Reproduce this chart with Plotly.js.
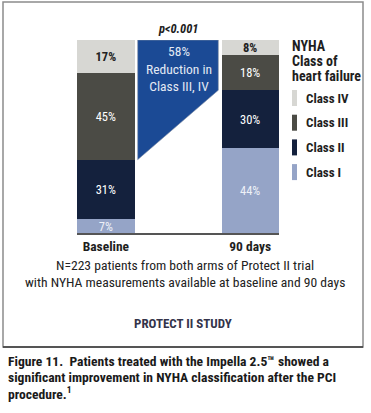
<!DOCTYPE html>
<html>
<head>
<meta charset="utf-8">
<script src="https://cdn.plot.ly/plotly-3.0.1.min.js"></script>
<style>html,body{margin:0;padding:0;background:#fff;}#chart{width:371px;height:413px;}</style>
</head>
<body>
<div id="chart"></div>
<script>
// ---- data ----
const categories = ['Baseline', '90 days'];
const seriesNames = ['Class I', 'Class II', 'Class III', 'Class IV'];
const classI = [7, 44];
const classII = [31, 30];
const classIII = [45, 18];
const classIV = [17, 8];
const reductionText = ['58%', 'Reduction in', 'Class III, IV'];
const pValueText = 'p&lt;0.001';
const legendTitle = ['NYHA', 'Class of', 'heart failure'];
const footnoteLines = ['N=223 patients from both arms of Protect II trial',
                       'with NYHA measurements available at baseline and 90 days'];
const studyLabel = 'PROTECT II STUDY';
const captionLines = ['Figure 11.  Patients treated with the Impella 2.5\u2122 showed a',
                      'significant improvement in NYHA classification after the PCI',
                      'procedure.<sup>1</sup>'];

// ---- styles ----
const FONT = '"Liberation Sans Narrow", "Roboto Condensed", Roboto, sans-serif';
const colors = ['#95a4c7', '#14213d', '#4b4b45', '#d7d7d3'];
const labelColors = ['#eef1f7', '#ffffff', '#ffffff', '#222222'];
const labelWeights = ['normal', 'normal', 'normal', 'bold'];
const BLUE = '#1b4a95';
const BAR_W = 0.397;
const GAP = 0.022;

const xPos = categories.map((c, i) => i);
const series = [classI, classII, classIII, classIV];

const traces = series.map((vals, k) => ({
  type: 'bar',
  name: seriesNames[k],
  x: xPos,
  y: vals,
  width: BAR_W,
  marker: {color: colors[k], line: {width: 0}},
  text: vals.map(v => v + '%'),
  textposition: 'inside',
  insidetextanchor: 'middle',
  textangle: 0,
  textfont: {family: FONT, size: 12.5, color: labelColors[k], weight: labelWeights[k]},
  hoverinfo: 'skip',
  showlegend: false
}));

// reduction polygon: from top of the stacks down to the class II/III boundary of each bar
const total = series.reduce((s, v) => s + v[0], 0);
const leftBottom = classI[0] + classII[0];
const rightBottom = classI[1] + classII[1];
const px0 = xPos[0] + BAR_W / 2 + GAP;
const px1 = xPos[1] - BAR_W / 2 - GAP;
traces.push({
  type: 'scatter',
  mode: 'lines',
  x: [px0, px1, px1, px0, px0],
  y: [total, total, rightBottom, leftBottom, total],
  fill: 'toself',
  fillcolor: BLUE,
  line: {color: '#8b95a8', width: 0.6},
  hoverinfo: 'skip',
  showlegend: false
});

// pixel helpers for paper coordinates (plot area 77..279 x 40..233)
const L = 77, R = 279, T = 40, B = 233;
const pxX = p => (p - L) / (R - L);
const pxY = p => (B - p) / (B - T);

const annotations = [];
annotations.push({
  xref: 'x', yref: 'y', x: (px0 + px1) / 2 + 0.01, y: 85,
  text: reductionText.join('<br>'), showarrow: false,
  font: {family: FONT, size: 13.5, color: '#e3e9f4'}, align: 'center'
});
annotations.push({
  xref: 'x', yref: 'paper', x: (px0 + px1) / 2, y: pxY(28), yanchor: 'middle',
  text: '<b><i>' + pValueText + '</i></b>', showarrow: false,
  font: {family: FONT, size: 12.5, color: '#1e1e1e'}
});
footnoteLines.forEach((t, i) => annotations.push({
  xref: 'paper', yref: 'paper', x: pxX(185), y: pxY(265 + i * 17), yanchor: 'middle',
  text: t, showarrow: false, font: {family: FONT, size: 13.6, color: '#222222'}
}));
annotations.push({
  xref: 'paper', yref: 'paper', x: pxX(183), y: pxY(323), yanchor: 'middle',
  text: '<b>' + studyLabel + '</b>', showarrow: false,
  font: {family: FONT, size: 13, color: '#34344a'}
});
captionLines.forEach((t, i) => annotations.push({
  xref: 'paper', yref: 'paper', x: pxX(6), y: pxY(361 + i * 16), xanchor: 'left', yanchor: 'middle',
  text: '<b>' + t + '</b>', showarrow: false, align: 'left',
  font: {family: FONT, size: 13.6, color: '#1a1a1a'}
}));
// legend title
legendTitle.forEach((t, i) => annotations.push({
  xref: 'paper', yref: 'paper', x: pxX(290), y: pxY(46 + i * 15), xanchor: 'left', yanchor: 'middle',
  text: '<b>' + t + '</b>', showarrow: false, font: {family: FONT, size: 14, color: '#1e1e1e'}
}));
const shapes = [];
// legend entries (top to bottom: Class IV .. Class I)
const legendOrder = [3, 2, 1, 0];
legendOrder.forEach((k, i) => {
  const cy = 98 + i * 24.7;
  shapes.push({type: 'rect', xref: 'paper', yref: 'paper',
    x0: pxX(292), x1: pxX(297), y0: pxY(cy + 8), y1: pxY(cy - 8),
    fillcolor: colors[k], line: {width: 0}});
  annotations.push({
    xref: 'paper', yref: 'paper', x: pxX(304), y: pxY(cy), xanchor: 'left', yanchor: 'middle',
    text: '<b>' + seriesNames[k] + '</b>', showarrow: false,
    font: {family: FONT, size: 13, color: '#1e1e1e'}
  });
});
// frame
shapes.push({type: 'rect', xref: 'paper', yref: 'paper', layer: 'below',
  x0: pxX(3), x1: pxX(363), y0: pxY(347), y1: pxY(2),
  line: {color: '#8c8c8c', width: 1.5}, fillcolor: 'rgba(0,0,0,0)'});
shapes.push({type: 'line', xref: 'paper', yref: 'paper',
  x0: pxX(3), x1: pxX(363), y0: pxY(347), y1: pxY(347),
  line: {color: '#3a3a3a', width: 1.5}});

const layout = {
  width: 371, height: 413,
  margin: {l: L, r: 371 - R, t: T, b: 413 - B, pad: 0},
  paper_bgcolor: '#ffffff', plot_bgcolor: 'rgba(0,0,0,0)',
  barmode: 'stack',
  showlegend: false,
  xaxis: {
    range: [-0.2, 1.2], tickvals: xPos, ticktext: categories.map(c => '<b>' + c + '</b>'),
    showline: true, linecolor: '#555555', linewidth: 1.5, ticks: '', showgrid: false, zeroline: false,
    tickfont: {family: FONT, size: 13.5, color: '#1e1e1e'}, fixedrange: true
  },
  yaxis: {range: [0, 100], visible: false, fixedrange: true},
  uniformtext: {mode: 'show', minsize: 10},
  annotations: annotations,
  shapes: shapes,
  font: {family: FONT}
};

Plotly.newPlot('chart', traces, layout, {displayModeBar: false, staticPlot: true});
</script>
</body>
</html>
